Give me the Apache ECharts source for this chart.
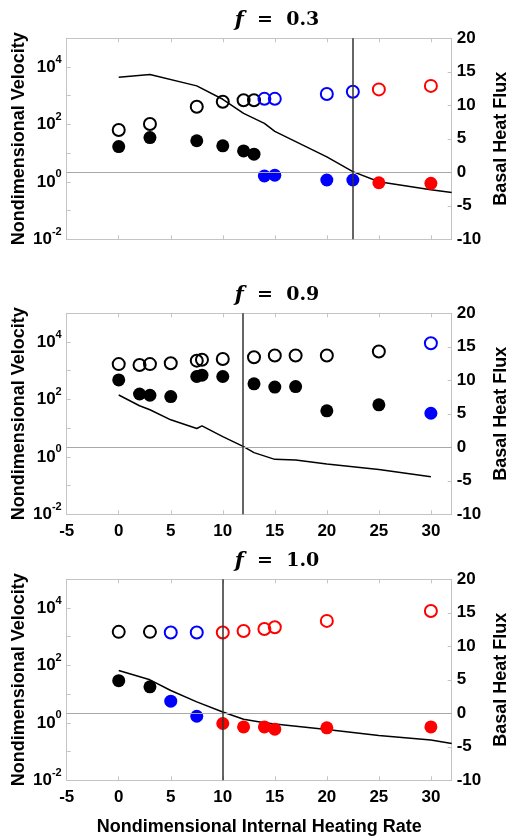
<!DOCTYPE html>
<html>
<head>
<meta charset="UTF-8">
<title></title>
<style>
  html, body { margin: 0; padding: 0; background: #fff; }
  #main { width: 508px; height: 839px; }
</style>
</head>
<body>
<div id="main"></div>
<script src="https://cdn.jsdelivr.net/npm/echarts@6/dist/echarts.min.js"></script>
<script>
// f = 0.3
var x1 = [0, 3, 7.5, 10, 12, 13, 14, 15, 20, 22.5, 25, 30];
var open1 = [64, 104, 415, 620, 700, 700, 780, 780, 1150, 1380, 1660, 2200];
var fill1 = [17, 35, 27, 18, 12, 9.2, 1.6, 1.7, 1.16, 1.16, 0.93, 0.89];
var reg1 = [0, 0, 0, 0, 0, 0, 1, 1, 1, 1, 2, 2];
var fluxX1 = [0, 3, 7.5, 10, 12, 14, 15, 20, 22.5, 25, 30, 32];
var flux1 = [14.2, 14.6, 12.9, 10.9, 8.8, 7.3, 6.1, 2.3, 0.1, -1.4, -2.6, -3.0];
var cut1 = 22.5;

// f = 0.9
var x2 = [0, 2, 3, 5, 7.5, 8, 10, 13, 15, 17, 20, 25, 30];
var open2 = [1700, 1580, 1700, 1830, 2240, 2400, 2570, 2930, 3380, 3380, 3380, 4680, 9100];
var fill2 = [480, 155, 140, 126, 630, 700, 630, 350, 270, 280, 40, 65, 33];
var reg2 = [0, 0, 0, 0, 0, 0, 0, 0, 0, 0, 0, 0, 1];
var fluxX2 = [0, 2, 3, 5, 7.5, 8, 10, 12, 13, 15, 17, 20, 25, 30];
var flux2 = [7.8, 6.2, 5.6, 4.1, 2.8, 3.2, 1.6, 0.1, -0.8, -1.8, -1.9, -2.5, -3.3, -4.4];
var cut2 = 11.9;

// f = 1.0
var x3 = [0, 3, 5, 7.5, 10, 12, 14, 15, 20, 30];
var open3 = [1480, 1480, 1410, 1410, 1410, 1580, 1860, 2130, 3560, 7900];
var fill3 = [29.5, 18, 5.7, 1.7, 0.95, 0.72, 0.72, 0.6, 0.67, 0.72];
var reg3 = [0, 0, 1, 1, 2, 2, 2, 2, 2, 2];
var fluxX3 = [0, 3, 5, 7.5, 10, 12, 14, 15, 20, 25, 30, 32];
var flux3 = [6.4, 5.0, 3.4, 1.7, 0.2, -0.9, -1.4, -1.6, -2.4, -3.3, -4.0, -4.5];
var cut3 = 10;

var titles = ['0.3', '0.9', '1.0'];
var xTicks = [-5, 0, 5, 10, 15, 20, 25, 30];

var panels = [
  {x: x1, open: open1, fill: fill1, reg: reg1, fx: fluxX1, flux: flux1, cut: cut1},
  {x: x2, open: open2, fill: fill2, reg: reg2, fx: fluxX2, flux: flux2, cut: cut2},
  {x: x3, open: open3, fill: fill3, reg: reg3, fx: fluxX3, flux: flux3, cut: cut3}
];

var regColor = ['#000000', '#0000ff', '#ff0000'];
var tops = [38.3, 313.3, 579.3];
var titleTops = [5, 280, 546];
var sans = 'Liberation Sans';
var boxColor = '#c4c4c4';

var myChart = echarts.init(document.getElementById('main'));

var grid = [], xAxis = [], yAxis = [], series = [], title = [];

for (var g = 0; g < 3; g++) {
  var p = panels[g];
  grid.push({left: 66.7, right: 56.3, top: tops[g], height: 201, outerBoundsMode: 'none', containLabel: false});
  title.push({
    text: '{i|f}{n|  =  ' + titles[g] + '}',
    left: 272,
    top: titleTops[g],
    textAlign: 'center',
    textStyle: {
      rich: {
        i: {fontFamily: 'DejaVu Serif', fontStyle: 'italic', fontSize: 21, color: '#000'},
        n: {fontFamily: 'DejaVu Serif', fontWeight: 'bold', fontSize: 19, color: '#000'}
      }
    }
  });
  // bottom x axis
  xAxis.push({
    gridIndex: g,
    type: 'value',
    min: -5,
    max: 32,
    interval: 5,
    position: 'bottom',
    name: g == 2 ? 'Nondimensional Internal Heating Rate' : '',
    nameLocation: 'middle',
    nameGap: 38,
    nameTextStyle: {fontFamily: sans, fontWeight: 'bold', fontSize: 18, color: '#000'},
    axisLine: {show: true, onZero: false, lineStyle: {color: boxColor, width: 1}},
    axisTick: {show: true, inside: true, length: 4, lineStyle: {color: boxColor}},
    splitLine: {show: false},
    axisLabel: {
      show: g > 0,
      margin: 9,
      fontFamily: sans, fontWeight: 'bold', fontSize: 17, color: '#000',
      formatter: function(v) { return xTicks.indexOf(v) >= 0 ? String(v) : ''; }
    }
  });
  // top x axis (box edge)
  xAxis.push({
    gridIndex: g,
    type: 'value',
    min: -5,
    max: 32,
    interval: 5,
    position: 'top',
    axisLine: {show: true, onZero: false, lineStyle: {color: boxColor, width: 1}},
    axisTick: {show: true, inside: true, length: 4, lineStyle: {color: boxColor}},
    splitLine: {show: false},
    axisLabel: {show: false}
  });
  // left log axis
  yAxis.push({
    gridIndex: g,
    type: 'log',
    logBase: 10,
    min: 0.01,
    max: 100000,
    splitNumber: 7,
    position: 'left',
    name: 'Nondimensional Velocity',
    nameLocation: 'middle',
    nameGap: 39,
    nameMoveOverlap: false,
    nameTextStyle: {fontFamily: sans, fontWeight: 'bold', fontSize: 18, color: '#000'},
    axisLine: {show: true, onZero: false, lineStyle: {color: boxColor, width: 1}},
    axisTick: {show: true, inside: true, length: 4, lineStyle: {color: boxColor}},
    splitLine: {show: false},
    minorTick: {show: false},
    axisLabel: {
      margin: 5,
      formatter: function(v) {
        var e = Math.round(Math.log(v) / Math.LN10);
        if (e % 2 != 0) return '';
        return '{b|10}{s|' + e + '}';
      },
      rich: {
        b: {fontFamily: sans, fontWeight: 'bold', fontSize: 17, color: '#000', lineHeight: 26},
        s: {fontFamily: sans, fontWeight: 'bold', fontSize: 11, color: '#000', verticalAlign: 'top', lineHeight: 14}
      }
    }
  });
  // right flux axis
  yAxis.push({
    gridIndex: g,
    type: 'value',
    min: -10,
    max: 20,
    interval: 5,
    position: 'right',
    name: 'Basal Heat Flux',
    nameLocation: 'middle',
    nameGap: 40,
    nameMoveOverlap: false,
    nameTextStyle: {fontFamily: sans, fontWeight: 'bold', fontSize: 18, color: '#000'},
    axisLine: {show: true, onZero: false, lineStyle: {color: boxColor, width: 1}},
    axisTick: {show: true, inside: true, length: 4, lineStyle: {color: boxColor}},
    splitLine: {show: false},
    axisLabel: {margin: 5, fontFamily: sans, fontWeight: 'bold', fontSize: 17, color: '#000'}
  });

  var lineData = [];
  for (var i = 0; i < p.fx.length; i++) lineData.push([p.fx[i], p.flux[i]]);
  series.push({
    type: 'line',
    xAxisIndex: 2 * g,
    yAxisIndex: 2 * g + 1,
    data: lineData,
    showSymbol: false,
    lineStyle: {color: '#000', width: 1.5},
    z: 2,
    markLine: {
      silent: true,
      symbol: ['none', 'none'],
      label: {show: false},
      data: [
        {yAxis: 0, lineStyle: {color: '#a8a8a8', width: 1, type: 'solid'}},
        {xAxis: p.cut, lineStyle: {color: '#333', width: 1.5, type: 'solid'}}
      ]
    }
  });

  var openData = [], fillData = [];
  for (var i = 0; i < p.x.length; i++) {
    var c = regColor[p.reg[i]];
    openData.push({value: [p.x[i], p.open[i]], itemStyle: {color: 'rgba(0,0,0,0)', borderColor: c, borderWidth: 2, opacity: 1}});
    fillData.push({value: [p.x[i], p.fill[i]], itemStyle: {color: c, opacity: 1}});
  }
  series.push({
    type: 'scatter',
    xAxisIndex: 2 * g,
    yAxisIndex: 2 * g,
    data: openData,
    symbol: 'circle',
    symbolSize: 12,
    z: 3
  });
  series.push({
    type: 'scatter',
    xAxisIndex: 2 * g,
    yAxisIndex: 2 * g,
    data: fillData,
    symbol: 'circle',
    symbolSize: 13,
    z: 3
  });
}

var option = {
  animation: false,
  backgroundColor: '#fff',
  title: title,
  grid: grid,
  xAxis: xAxis,
  yAxis: yAxis,
  series: series
};
myChart.setOption(option);
</script>
</body>
</html>
